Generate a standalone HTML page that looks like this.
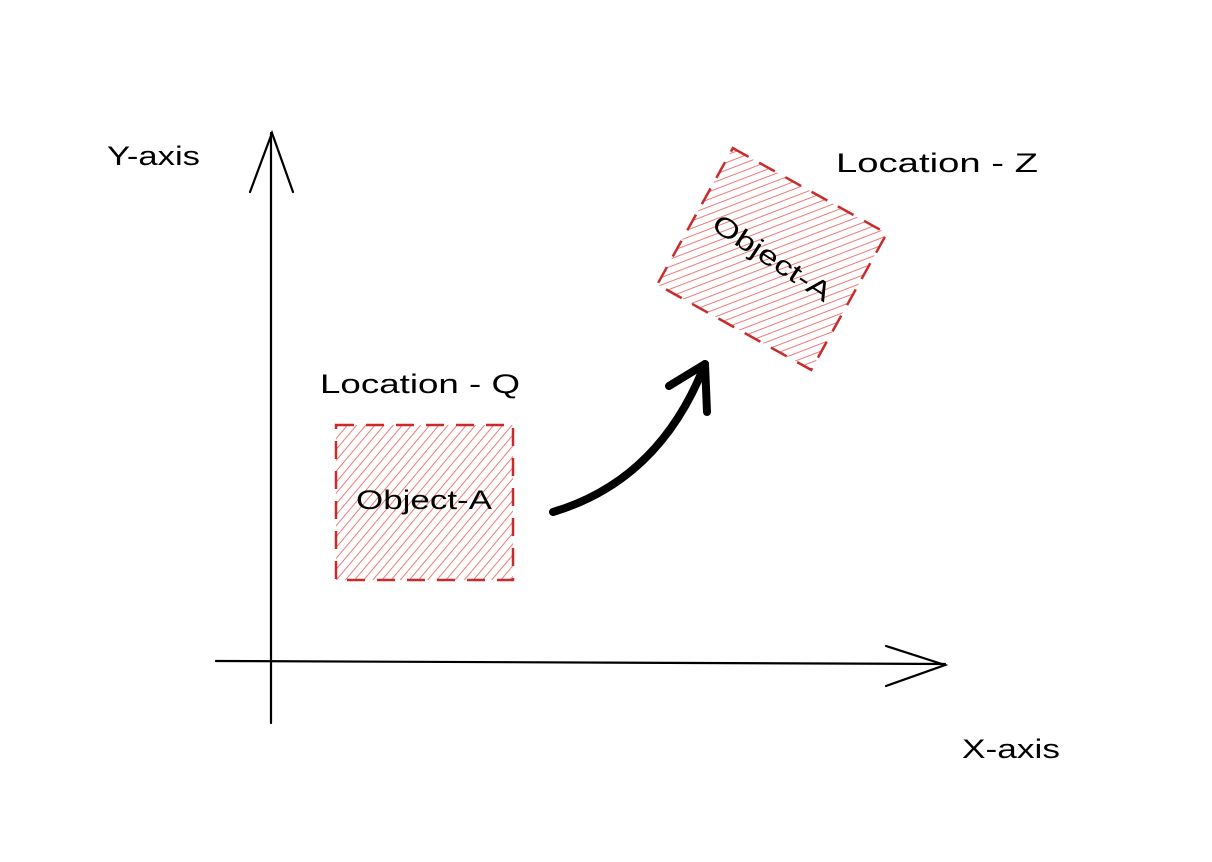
<!DOCTYPE html>
<html><head><meta charset="utf-8"><style>
html,body{margin:0;padding:0;background:#fff;}
svg{display:block;}
text{font-family:"Liberation Sans",sans-serif;fill:#000;}
</style></head><body>
<svg width="1212" height="862" viewBox="0 0 1212 862" xmlns="http://www.w3.org/2000/svg">
<defs>
<pattern id="h" patternUnits="userSpaceOnUse" width="7" height="7" patternTransform="rotate(40)">
<line x1="0" y1="0" x2="0" y2="7" stroke="#ef6b6b" stroke-width="1.8"/>
</pattern>
</defs>
<g stroke="#000" stroke-width="2.2" fill="none" stroke-linecap="round">
<line x1="271" y1="133" x2="271" y2="723"/>
<polyline points="250,192 272,133 293,192"/>
<line x1="216" y1="661" x2="945" y2="664"/>
<polyline points="886,646 945,665 886,686"/>
</g>
<rect x="336" y="425" width="177" height="155" fill="url(#h)"/>
<rect x="336" y="425" width="177" height="155" fill="none" stroke="#c92a2a" stroke-width="2.5" stroke-dasharray="18,12"/>
<text x="356" y="509" font-size="27" textLength="136" lengthAdjust="spacingAndGlyphs">Object-A</text>
<g transform="rotate(29 772 259)">
<rect x="684" y="181" width="176" height="156" fill="url(#h)"/>
<rect x="684" y="181" width="176" height="156" fill="none" stroke="#c92a2a" stroke-width="2.5" stroke-dasharray="18,12"/>
</g>
<text x="704" y="267" font-size="27" textLength="136" lengthAdjust="spacingAndGlyphs" transform="rotate(33 772 258)">Object-A</text>
<g stroke="#000" stroke-width="8" fill="none" stroke-linecap="round" stroke-linejoin="round">
<path d="M553,512 Q660,480 705,364"/>
<polyline points="669,386 705,364 707,412"/>
</g>
<text x="107" y="165" font-size="27" textLength="93" lengthAdjust="spacingAndGlyphs">Y-axis</text>
<text x="836" y="172" font-size="27" textLength="202" lengthAdjust="spacingAndGlyphs">Location - Z</text>
<text x="320" y="393" font-size="27" textLength="200" lengthAdjust="spacingAndGlyphs">Location - Q</text>
<text x="962" y="758" font-size="27" textLength="98" lengthAdjust="spacingAndGlyphs">X-axis</text>
</svg>
</body></html>
